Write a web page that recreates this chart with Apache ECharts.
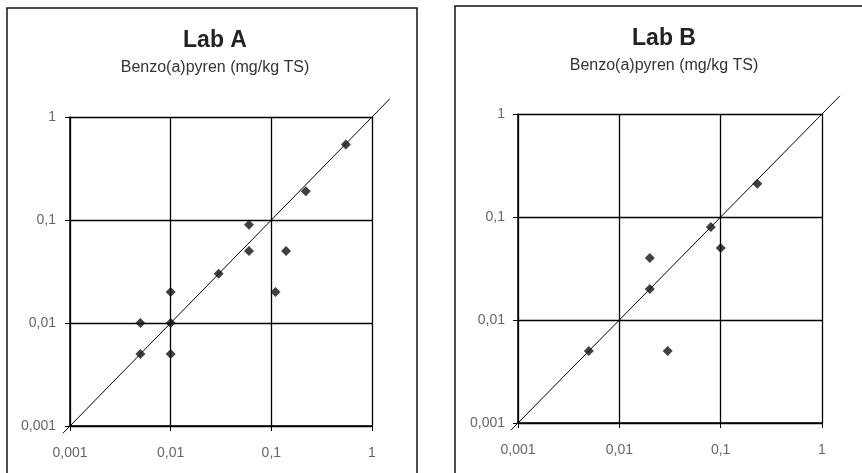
<!DOCTYPE html>
<html><head><meta charset="utf-8">
<script src="https://cdn.jsdelivr.net/npm/echarts@6/dist/echarts.min.js"></script>
<style>html,body{margin:0;padding:0;background:#fff}#c{width:862px;height:473px}</style>
</head><body><div id="c"></div>
<script>
const titles = ['Lab A', 'Lab B'];
const subtitle = 'Benzo(a)pyren (mg/kg TS)';
const tickLabels = ['0,001', '0,01', '0,1', '1'];
const labAData = [
  [0.55, 0.54], [0.22, 0.19], [0.06, 0.09], [0.06, 0.05], [0.14, 0.05],
  [0.03, 0.03], [0.11, 0.02], [0.01, 0.02], [0.005, 0.01], [0.01, 0.01],
  [0.005, 0.005], [0.01, 0.005]
];
const labBData = [
  [0.23, 0.21], [0.08, 0.08], [0.1, 0.05], [0.02, 0.04], [0.02, 0.02],
  [0.005, 0.005], [0.03, 0.005]
];
// reference line y = x (start x, start y, end x, end y)
const lineA = [[0.00085, 0.00085, 1.5, 1.5]];
const lineB = [[0.00085, 0.00085, 1.5, 1.5]];

const chart = echarts.init(document.getElementById('c'));
const fmt = v => tickLabels[Math.round(Math.log10(v)) + 3] || '';
const FONT = 'Liberation Sans, Arial';
function ax(gi, margin) {
  return {
    type: 'log', logBase: 10, min: 0.001, max: 1, gridIndex: gi,
    axisLine: { show: true, lineStyle: { color: '#000', width: 1.5 } },
    axisTick: { show: true, length: 5, lineStyle: { color: '#000' } },
    axisLabel: { formatter: fmt, color: '#666', fontSize: 14, fontFamily: FONT, margin: margin },
    splitLine: { show: true, lineStyle: { color: '#000', width: 1.3 } },
    minorTick: { show: false }, minorSplitLine: { show: false }
  };
}
function diag(api) {
  const p1 = api.coord([api.value(0), api.value(1)]);
  const p2 = api.coord([api.value(2), api.value(3)]);
  return { type: 'line', shape: { x1: p1[0], y1: p1[1], x2: p2[0], y2: p2[1] },
           style: { stroke: '#000', lineWidth: 1 } };
}
chart.setOption({
  animation: false,
  backgroundColor: '#fff',
  title: [
    { text: titles[0], subtext: subtitle, left: 210, top: 24, textAlign: 'center', itemGap: 8,
      textStyle: { fontSize: 23, fontWeight: 'bold', color: '#222', fontFamily: FONT },
      subtextStyle: { fontSize: 16, color: '#333', fontFamily: FONT } },
    { text: titles[1], subtext: subtitle, left: 659, top: 22, textAlign: 'center', itemGap: 8,
      textStyle: { fontSize: 23, fontWeight: 'bold', color: '#222', fontFamily: FONT },
      subtextStyle: { fontSize: 16, color: '#333', fontFamily: FONT } }
  ],
  grid: [
    { left: 70, top: 117, width: 302, height: 309 },
    { left: 518, top: 114, width: 304, height: 309 }
  ],
  xAxis: [ax(0, 20), ax(1, 20)],
  yAxis: [ax(0, 14), ax(1, 13)],
  graphic: [
    { type: 'rect', shape: { x: 7, y: 8, width: 410, height: 500 }, style: { fill: 'none', stroke: '#111', lineWidth: 1.5 }, silent: true },
    { type: 'rect', shape: { x: 455, y: 6, width: 440, height: 500 }, style: { fill: 'none', stroke: '#111', lineWidth: 1.5 }, silent: true }
  ],
  series: [
    { type: 'custom', xAxisIndex: 0, yAxisIndex: 0, data: lineA, renderItem: (p, api) => diag(api),
      clip: false, encode: { x: [0, 2], y: [1, 3] }, z: 3 },
    { type: 'custom', xAxisIndex: 1, yAxisIndex: 1, data: lineB, renderItem: (p, api) => diag(api),
      clip: false, encode: { x: [0, 2], y: [1, 3] }, z: 3 },
    { type: 'scatter', xAxisIndex: 0, yAxisIndex: 0, data: labAData, symbol: 'diamond', symbolSize: 10,
      itemStyle: { color: '#111' }, z: 4 },
    { type: 'scatter', xAxisIndex: 1, yAxisIndex: 1, data: labBData, symbol: 'diamond', symbolSize: 10,
      itemStyle: { color: '#111' }, z: 4 }
  ]
});
</script></body></html>
